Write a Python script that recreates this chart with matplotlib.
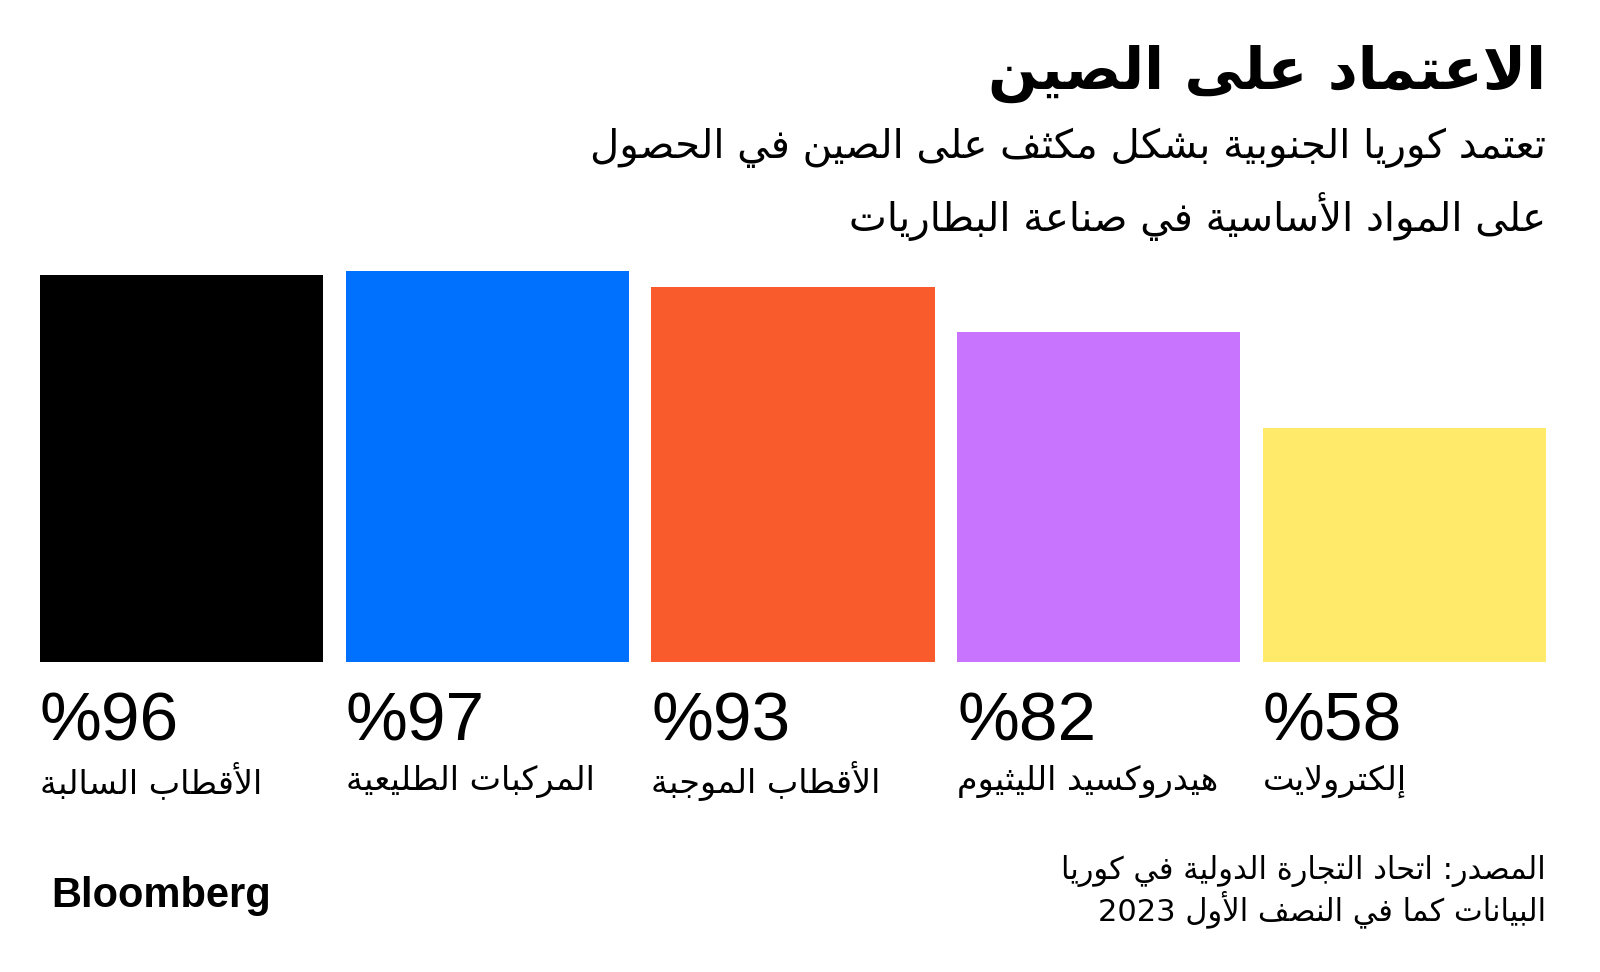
#!/usr/bin/env python3
import re

import matplotlib
matplotlib.use('Agg')
import matplotlib.pyplot as plt
import matplotlib.transforms as mtransforms

title = 'الاعتماد على الصين'
subtitle = ['تعتمد كوريا الجنوبية بشكل مكثف على الصين في الحصول',
            'على المواد الأساسية في صناعة البطاريات']
categories = ['الأقطاب السالبة', 'المركبات الطليعية', 'الأقطاب الموجبة',
              'هيدروكسيد الليثيوم', 'إلكترولايت']
values = [96, 97, 93, 82, 58]
colors = ['#000000', '#0071FF', '#F95B2D', '#C874FF', '#FFEB69']
source = ['المصدر: اتحاد التجارة الدولية في كوريا',
          'البيانات كما في النصف الأول 2023']

# --- minimal arabic shaping (presentation forms + visual order) ---
_TABLE = [('\u0621', 0xFE80, 1), ('\u0622', 0xFE81, 2), ('\u0623', 0xFE83, 2),
          ('\u0624', 0xFE85, 2), ('\u0625', 0xFE87, 2), ('\u0626', 0xFE89, 4),
          ('\u0627', 0xFE8D, 2), ('\u0628', 0xFE8F, 4), ('\u0629', 0xFE93, 2),
          ('\u062A', 0xFE95, 4), ('\u062B', 0xFE99, 4), ('\u062C', 0xFE9D, 4),
          ('\u062D', 0xFEA1, 4), ('\u062E', 0xFEA5, 4), ('\u062F', 0xFEA9, 2),
          ('\u0630', 0xFEAB, 2), ('\u0631', 0xFEAD, 2), ('\u0632', 0xFEAF, 2),
          ('\u0633', 0xFEB1, 4), ('\u0634', 0xFEB5, 4), ('\u0635', 0xFEB9, 4),
          ('\u0636', 0xFEBD, 4), ('\u0637', 0xFEC1, 4), ('\u0638', 0xFEC5, 4),
          ('\u0639', 0xFEC9, 4), ('\u063A', 0xFECD, 4), ('\u0641', 0xFED1, 4),
          ('\u0642', 0xFED5, 4), ('\u0643', 0xFED9, 4), ('\u0644', 0xFEDD, 4),
          ('\u0645', 0xFEE1, 4), ('\u0646', 0xFEE5, 4), ('\u0647', 0xFEE9, 4),
          ('\u0648', 0xFEED, 2), ('\u0649', 0xFEEF, 2), ('\u064A', 0xFEF1, 4)]
FORMS = {c: [start + k for k in range(n)] for c, start, n in _TABLE}
LAM_ALEF = {'\u0622': 0xFEF5, '\u0623': 0xFEF7, '\u0625': 0xFEF9, '\u0627': 0xFEFB}


def shape(text):
    out = []
    prev_joins = False
    i = 0
    while i < len(text):
        c = text[i]
        nxt = text[i + 1] if i + 1 < len(text) else ''
        if c not in FORMS:
            out.append(c)
            prev_joins = False
            i += 1
            continue
        if c == '\u0644' and nxt in LAM_ALEF:
            out.append(chr(LAM_ALEF[nxt] + (1 if prev_joins else 0)))
            prev_joins = False
            i += 2
            continue
        f = FORMS[c]
        can_next = len(f) == 4 and nxt in FORMS
        if len(f) == 1:
            g = f[0]
        elif prev_joins and can_next:
            g = f[3]
        elif prev_joins:
            g = f[1]
        elif can_next:
            g = f[2]
        else:
            g = f[0]
        out.append(chr(g))
        prev_joins = len(f) == 4
        i += 1
    return ''.join(out)


def ar(text):
    s = shape(text)
    parts = re.findall(r'[0-9A-Za-z%.]+|[^0-9A-Za-z%.]+', s)
    return ''.join(p if re.match(r'[0-9A-Za-z%.]', p) else p[::-1]
                   for p in reversed(parts))


AR_FONT = ['DejaVu Sans']
NUM_FONT = ['Liberation Sans', 'DejaVu Sans']

fig = plt.figure(figsize=(16, 9.72), dpi=100)
ax = fig.add_axes([40 / 1600, 1 - 662 / 972, 1506 / 1600, 403 / 972])

width = 0.926
x = list(range(len(values)))
ax.bar(x, values, width=width, color=colors)
ax.set_xlim(-width / 2, len(values) - 1 + width / 2)
ax.set_ylim(0, 100)
ax.axis('off')

tr = mtransforms.blended_transform_factory(ax.transData, fig.transFigure)
for i, (v, cat) in enumerate(zip(values, categories)):
    left = i - width / 2
    ax.text(left, 1 - 722 / 972, f'%{v}', transform=tr, ha='left', va='center',
            fontsize=50, family=NUM_FONT, color='black')
    ax.text(left, 1 - 781 / 972, ar(cat), transform=tr, ha='left', va='center',
            fontsize=24, family=AR_FONT, color='black')

right = 1546 / 1600
fig.text(right, 1 - 74 / 972, ar(title), ha='right', va='center',
         fontsize=42, fontweight='bold', family=AR_FONT)
fig.text(right, 1 - 148 / 972, ar(subtitle[0]), ha='right', va='center',
         fontsize=29, family=AR_FONT)
fig.text(right, 1 - 217 / 972, ar(subtitle[1]), ha='right', va='center',
         fontsize=29, family=AR_FONT)
fig.text(right, 1 - 871 / 972, ar(source[0]), ha='right', va='center',
         fontsize=22, family=AR_FONT)
fig.text(right, 1 - 909 / 972, ar(source[1]), ha='right', va='center',
         fontsize=22, family=AR_FONT)
fig.text(51 / 1600, 1 - 896 / 972, 'Bloomberg', ha='left', va='center',
         fontsize=30, fontweight='bold', family=NUM_FONT)

fig.savefig('out.png', dpi=100, facecolor='white')
